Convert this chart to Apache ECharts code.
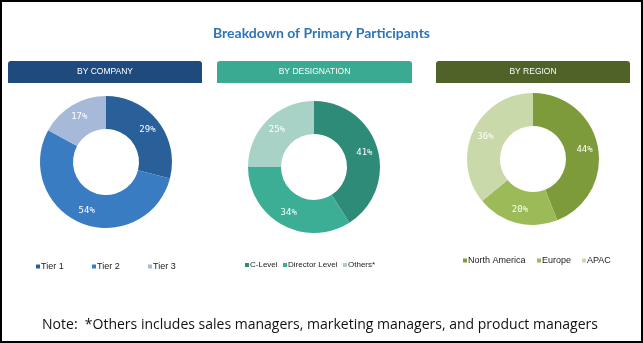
<!DOCTYPE html>
<html><head><meta charset="utf-8">
<script src="https://cdn.jsdelivr.net/npm/echarts@6/dist/echarts.min.js"></script>
<style>html,body{margin:0;padding:0;background:#fff}#c{width:643px;height:343px}</style>
</head><body><div id="c"></div>
<script>
const companyCats = ['Tier 1', 'Tier 2', 'Tier 3'];
const companyVals = [29, 54, 17];
const designationCats = ['C-Level', 'Director Level', 'Others*'];
const designationVals = [41, 34, 25];
const regionCats = ['North America', 'Europe', 'APAC'];
const regionVals = [44, 20, 36];
const headers = ['BY COMPANY', 'BY DESIGNATION', 'BY REGION'];
const titleText = 'Breakdown of Primary Participants';
const noteText = 'Note:  *Others includes sales managers, marketing managers, and product managers';

const palettes = [
  ['#2A6099', '#3A7CC1', '#A6B9D8'],
  ['#2E8B78', '#3CAE96', '#A9D2C6'],
  ['#7D9B3A', '#9CBB58', '#C9D9AA']
];
const headerColors = ['#1F4A7E', '#3AAA93', '#4F6228'];
const bars = [[8, 194], [217, 195], [436, 194]];
const centers = [[106, 162], [314, 167], [533, 159]];
const legendX = [[36, 92, 148], [245, 283, 343], [463, 537, 582]];
const legendY = [268, 267, 262];
const legendFont = [9, 8, 9];
const cats = [companyCats, designationCats, regionCats];
const vals = [companyVals, designationVals, regionVals];

const chart = echarts.init(document.getElementById('c'), null, {renderer: 'canvas'});
const graphic = [{
  type: 'rect', shape: {x: 1, y: 1, width: 641, height: 341},
  style: {fill: 'none', stroke: '#000', lineWidth: 2}, z: 100
}];
headers.forEach((h, i) => {
  graphic.push({type: 'rect', shape: {x: bars[i][0], y: 61, width: bars[i][1], height: 22, r: [3, 3, 0, 0]},
    style: {fill: headerColors[i]}});
  graphic.push({type: 'text', x: bars[i][0] + bars[i][1] / 2, y: 72,
    style: {text: h, fill: '#fff', font: '8.5px "Liberation Sans", Arial, sans-serif', textAlign: 'center', textVerticalAlign: 'middle'}});
});
graphic.push({type: 'text', x: 320, y: 325,
  style: {text: noteText, fill: '#111', font: '14px "Open Sans", sans-serif', textAlign: 'center', textVerticalAlign: 'middle'}});

const series = cats.map((c, i) => ({
  type: 'pie', center: centers[i], radius: [33, 66], startAngle: 90, clockwise: true,
  avoidLabelOverlap: false, animation: false,
  label: {show: true, position: 'inside', formatter: '{c}%', color: '#fff',
    fontFamily: '"DejaVu Sans Mono", monospace', fontSize: 9},
  labelLine: {show: false},
  itemStyle: {borderWidth: 0},
  emphasis: {disabled: true},
  data: c.map((n, k) => ({name: n, value: vals[i][k], itemStyle: {color: palettes[i][k]}}))
}));
const legends = [];
cats.forEach((c, i) => {
  c.forEach((n, k) => {
    legends.push({
      data: [n], left: legendX[i][k], top: legendY[i] - 6, padding: 0,
      icon: 'rect', itemWidth: 4, itemHeight: 4,
      textStyle: {fontSize: legendFont[i], color: '#222', fontFamily: '"Liberation Sans", Arial, sans-serif', padding: [0, 0, 0, -4]},
      selectedMode: false
    });
  });
});
chart.setOption({
  backgroundColor: '#fff',
  animation: false,
  title: {text: titleText, left: 'center', top: 21,
    textStyle: {color: '#2E75B6', fontSize: 14, fontWeight: 'bold', fontFamily: 'Lato, sans-serif'}},
  legend: legends,
  series: series,
  graphic: graphic
});
</script></body></html>
